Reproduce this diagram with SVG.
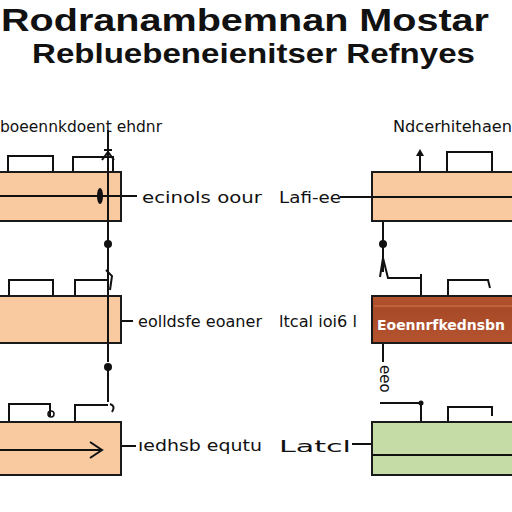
<svg xmlns="http://www.w3.org/2000/svg" width="512" height="512" viewBox="0 0 512 512">
<style>
.box{stroke:#1a1a1a;stroke-width:2}
.peach{fill:#F9C9A0}
.green{fill:#C6DCA6}
.ln{stroke:#111;stroke-width:2;fill:none}
.t{font-family:"Liberation Sans",Arial,sans-serif;fill:#111;font-weight:bold}
.lbl{font-family:"DejaVu Sans","Liberation Sans",sans-serif;font-size:15px;fill:#111}
</style>
<defs>
<linearGradient id="brown" x1="0" y1="0" x2="0" y2="1">
<stop offset="0" stop-color="#B5552F"/><stop offset="0.3" stop-color="#A84A28"/><stop offset="1" stop-color="#B5532F"/>
</linearGradient>
</defs>
<rect width="512" height="512" fill="#fff"/>
<g id="title">
<text class="t" x="1" y="31" font-size="31" textLength="488" lengthAdjust="spacingAndGlyphs">Rodranambemnan Mostar</text>
<text class="t" x="32" y="63" font-size="27" textLength="443" lengthAdjust="spacingAndGlyphs">Rebluebeneienitser Refnyes</text>
</g>
<g id="connectors">
<line class="ln" x1="108" y1="130" x2="108" y2="362"/>
<path class="ln" d="M102 160 L108 152 L114 160 M104 150 L112 150"/>
<line class="ln" x1="0" y1="196" x2="137" y2="196"/>
<circle cx="108" cy="244" r="4" fill="#111"/>
<path class="ln" d="M106 270 L112 276 L110 290"/>
<circle cx="108" cy="367" r="4" fill="#111"/>
<line class="ln" x1="108" y1="367" x2="108" y2="402" stroke-width="3"/>
<path class="ln" d="M110 404 Q116 406 112 412"/>
<line class="ln" x1="121" y1="321" x2="133" y2="321"/>
<line class="ln" x1="121" y1="446" x2="136" y2="446"/>
<line class="ln" x1="340" y1="197" x2="372" y2="197"/>
<line class="ln" x1="352" y1="444" x2="372" y2="444"/>
<path d="M416 156 L420 149 L424 156 Z" fill="#111"/>
<line class="ln" x1="383" y1="221" x2="383" y2="272"/>
<circle cx="383" cy="244" r="4" fill="#111"/>
<path class="ln" d="M383 258 L380 277 M383 258 L388 278 L421 278 M421 274 L421 296"/>
<line class="ln" x1="383" y1="343" x2="383" y2="362"/>
<path class="ln" d="M380 403 L421 403 L421 422"/>
<circle cx="421" cy="403" r="2.5" fill="#111"/>
</g>
<g id="node-L1">
<path class="ln" d="M8 172 L8 156 L53 156 L53 172 M73 172 L73 157 L113 157 L113 172"/>
<rect class="box peach" x="-2" y="172" width="123" height="49"/>
<line class="ln" x1="108" y1="172" x2="108" y2="221"/>
<ellipse cx="100" cy="196" rx="3" ry="8" fill="#111"/>
<line class="ln" x1="0" y1="196" x2="121" y2="196"/>
</g>
<g id="node-L2">
<path class="ln" d="M9 296 L9 280 L53 280 L53 296 M75 296 L75 280 L108 280"/>
<rect class="box peach" x="-2" y="296" width="123" height="47"/>
<line class="ln" x1="108" y1="296" x2="108" y2="343"/>
</g>
<g id="node-L3">
<path class="ln" d="M9 422 L9 404 L50 404 L50 416 M75 422 L75 405 L108 405"/>
<circle cx="51" cy="414" r="3" fill="none" stroke="#111" stroke-width="1.5"/>
<rect class="box peach" x="-2" y="422" width="123" height="53"/>
<line class="ln" x1="0" y1="450" x2="102" y2="450"/>
<path class="ln" d="M90 442 L102 450 L90 458"/>
</g>
<g id="node-R1">
<path class="ln" d="M447 172 L447 152 L492 152 L492 172"/>
<rect class="box peach" x="372" y="172" width="142" height="49"/>
<line class="ln" x1="372" y1="197" x2="512" y2="197"/>
<line class="ln" x1="420" y1="172" x2="420" y2="152"/>
</g>
<g id="node-R2">
<path class="ln" d="M448 296 L448 280 L488 280 L490 288"/>
<rect class="box" x="372" y="296" width="142" height="47" fill="url(#brown)"/>
<line x1="374" y1="306" x2="512" y2="306" stroke="#C96A44" stroke-width="1.5"/>
<text x="377" y="330" font-family="DejaVu Sans,sans-serif" font-size="14" font-weight="bold" fill="#fff" textLength="128" lengthAdjust="spacingAndGlyphs">Eoennrfkednsbn</text>
</g>
<g id="node-R3">
<path class="ln" d="M448 422 L448 407 L492 407 L492 416"/>
<rect class="box green" x="372" y="422" width="142" height="53"/>
<line class="ln" x1="372" y1="455" x2="512" y2="455"/>
<text class="lbl" x="0" y="0" transform="translate(380 365) rotate(90)" font-size="12">eeo</text>
</g>
<g id="labels">
<text class="lbl" x="0" y="132" textLength="162" lengthAdjust="spacingAndGlyphs">boeennkdoent ehdnr</text>
<text class="lbl" x="393" y="132" textLength="119" lengthAdjust="spacingAndGlyphs">Ndcerhitehaen</text>
<text class="lbl" x="142" y="203" font-size="17" textLength="120" lengthAdjust="spacingAndGlyphs">ecinols oour</text>
<text class="lbl" x="279" y="203" font-size="17" textLength="62" lengthAdjust="spacingAndGlyphs">Lafi-ee</text>
<text class="lbl" x="138" y="327" textLength="124" lengthAdjust="spacingAndGlyphs">eolldsfe eoaner</text>
<text class="lbl" x="279" y="327" font-size="17" textLength="78" lengthAdjust="spacingAndGlyphs">ltcal ioi6 l</text>
<text class="lbl" x="138" y="451" font-size="17" textLength="124" lengthAdjust="spacingAndGlyphs">ıedhsb equtu</text>
<text class="lbl" x="279" y="452" font-size="22" textLength="72" lengthAdjust="spacingAndGlyphs">Latcl</text>
</g>
</svg>
